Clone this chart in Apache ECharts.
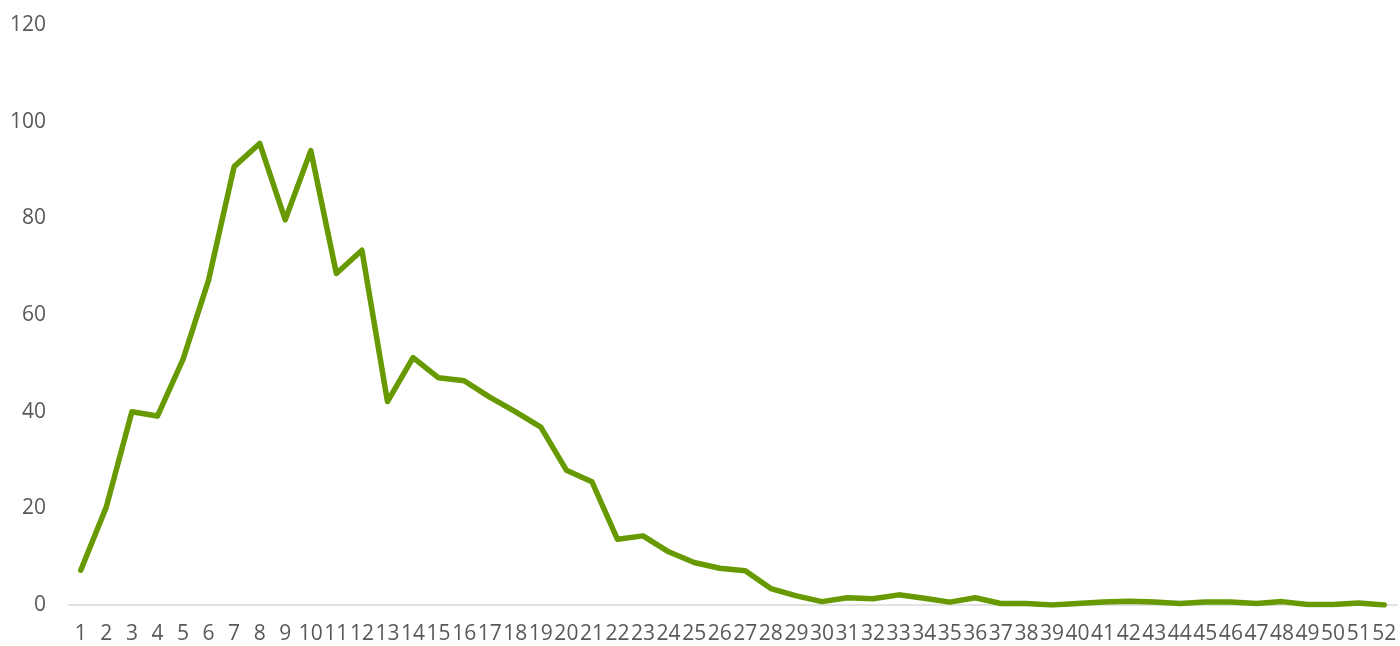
<!DOCTYPE html>
<html>
<head>
<meta charset="utf-8">
<script src="https://cdn.jsdelivr.net/npm/echarts@6/dist/echarts.min.js"></script>
<style>html,body{margin:0;padding:0;background:#fff;}#c{width:1400px;height:646px;}</style>
</head>
<body>
<div id="c"></div>
<script>
const categories = ['1','2','3','4','5','6','7','8','9','10','11','12','13','14','15','16','17','18','19','20','21','22','23','24','25','26','27','28','29','30','31','32','33','34','35','36','37','38','39','40','41','42','43','44','45','46','47','48','49','50','51','52'];
const values = [7.2, 20.3, 40.0, 39.1, 50.8, 67.2, 90.7, 95.5, 79.7, 94.0, 68.6, 73.4, 42.1, 51.2, 47.0, 46.4, 43.0, 40.0, 36.8, 27.9, 25.5, 13.6, 14.3, 11.0, 8.8, 7.6, 7.1, 3.4, 1.9, 0.7, 1.5, 1.3, 2.1, 1.4, 0.6, 1.5, 0.3, 0.3, 0.0, 0.3, 0.6, 0.8, 0.6, 0.3, 0.6, 0.6, 0.3, 0.7, 0.1, 0.1, 0.4, 0.0];
const yTicks = { min: 0, max: 120, interval: 20 };

const chart = echarts.init(document.getElementById('c'), null, { renderer: 'canvas' });
const font = "'Open Sans', sans-serif";
chart.setOption({
  animation: false,
  backgroundColor: '#ffffff',
  grid: { left: 68, right: 3, top: 25, bottom: 41, containLabel: false },
  xAxis: {
    type: 'category',
    data: categories,
    boundaryGap: true,
    axisLine: { show: true, lineStyle: { color: '#d9d9d9', width: 1.5 } },
    axisTick: { show: false },
    axisLabel: { color: '#595959', fontFamily: font, fontSize: 21, margin: 19, interval: 0 },
    splitLine: { show: false }
  },
  yAxis: {
    type: 'value',
    min: yTicks.min, max: yTicks.max, interval: yTicks.interval,
    axisLine: { show: false },
    axisTick: { show: false },
    axisLabel: { color: '#595959', fontFamily: font, fontSize: 21, margin: 22 },
    splitLine: { show: false }
  },
  series: [{
    type: 'line',
    data: values,
    symbol: 'none',
    lineStyle: { color: '#669a00', width: 5.5, cap: 'round', join: 'round' },
    itemStyle: { color: '#669a00' }
  }]
});
</script>
</body>
</html>
